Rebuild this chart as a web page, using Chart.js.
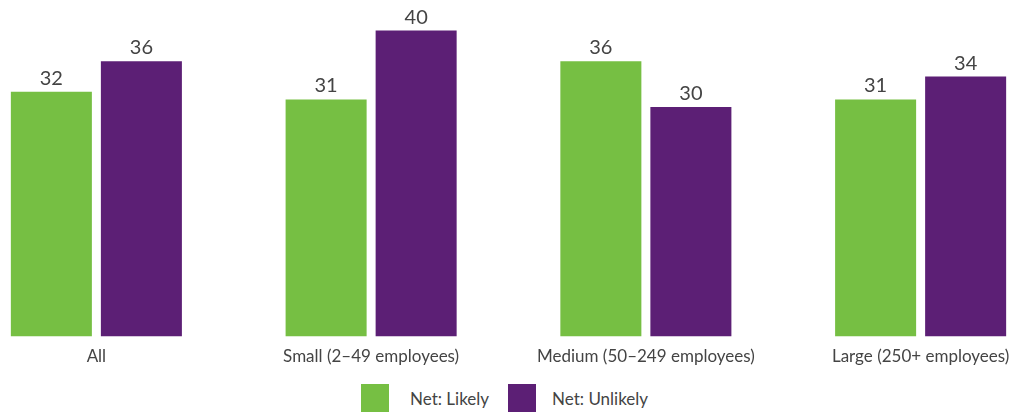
<!DOCTYPE html>
<html>
<head>
<meta charset="utf-8">
<script src="https://cdn.jsdelivr.net/npm/chart.js@4"></script>
<style>
  html, body { margin: 0; padding: 0; background: #fff; overflow: hidden; }
  body { width: 1021px; height: 412px; position: relative; }
  #wrap { position: absolute; left: -41px; top: 0; width: 1099px; height: 369px; }
  #legend { position: absolute; left: 361px; top: 384px; display: flex; align-items: center;
            font-family: Lato, sans-serif; font-size: 17px; color: #444; }
  .sw { width: 28px; height: 28px; display: inline-block; }
  .lbl { margin-right: 19px; }
</style>
</head>
<body>
<div id="wrap"><canvas id="c"></canvas></div>
<div id="legend"></div>
<script>
const categories = ['All', 'Small (2–49 employees)', 'Medium (50–249 employees)', 'Large (250+ employees)'];
const seriesNames = ['Net: Likely', 'Net: Unlikely'];
const likely = [32, 31, 36, 31];
const unlikely = [36, 40, 30, 34];
const colors = ['#76bf43', '#5c1f75'];

// Value labels above each bar
const valueLabels = {
  id: 'valueLabels',
  afterDatasetsDraw(chart) {
    const ctx = chart.ctx;
    ctx.save();
    ctx.font = '20px Lato, sans-serif';
    ctx.fillStyle = '#444';
    ctx.textAlign = 'center';
    ctx.textBaseline = 'alphabetic';
    chart.data.datasets.forEach((ds, i) => {
      chart.getDatasetMeta(i).data.forEach((bar, j) => {
        ctx.fillText(String(ds.data[j]), bar.x, bar.y - 7);
      });
    });
    ctx.restore();
  }
};

new Chart(document.getElementById('c'), {
  type: 'bar',
  data: {
    labels: categories,
    datasets: [
      { label: seriesNames[0], data: likely, backgroundColor: colors[0] },
      { label: seriesNames[1], data: unlikely, backgroundColor: colors[1] }
    ]
  },
  options: {
    responsive: true,
    maintainAspectRatio: false,
    animation: false,
    categoryPercentage: 0.6553,
    barPercentage: 0.9,
    layout: { padding: 0 },
    plugins: { legend: { display: false }, tooltip: { enabled: false } },
    scales: {
      x: {
        grid: { display: false },
        border: { display: false },
        ticks: { color: '#444', font: { family: 'Lato, sans-serif', size: 17 }, padding: 2, maxRotation: 0, autoSkip: false }
      },
      y: { display: false, min: 0, max: 44 }
    }
  },
  plugins: [valueLabels]
});

// Legend
const legend = document.getElementById('legend');
const gaps = [21, 16];
seriesNames.forEach((name, i) => {
  const sw = document.createElement('span');
  sw.className = 'sw';
  sw.style.background = colors[i];
  const t = document.createElement('span');
  t.className = 'lbl';
  t.style.marginLeft = gaps[i] + 'px';
  t.textContent = name;
  legend.appendChild(sw);
  legend.appendChild(t);
});
</script>
</body>
</html>
